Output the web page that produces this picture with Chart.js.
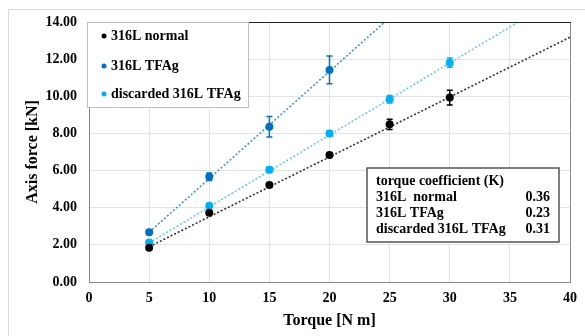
<!DOCTYPE html>
<html>
<head>
<meta charset="utf-8">
<script src="https://cdn.jsdelivr.net/npm/chart.js@4.4.1/dist/chart.umd.min.js"></script>
<style>
	body { margin: 0; background: #fff; }
	#divGrafico { width: 585px; height: 336px; }
</style>
</head>
<body>
<div id="divGrafico"><canvas id="grafico" width="585" height="336"></canvas></div>
<script>
// torque [N m]
var torqueNormal = [5, 10, 15, 20, 25, 30];
var torqueTFAg = [5, 10, 15, 20];
var torqueDisc = [5, 10, 15, 20, 25, 30];

// axis force [kN]
var forcaNormal = [1.84, 3.73, 5.22, 6.84, 8.49, 9.93];
var forcaTFAg = [2.68, 5.67, 8.36, 11.42];
var forcaDisc = [2.13, 4.1, 6.04, 8.0, 9.84, 11.81];

// desvio (+/-)
var erroNormal = [0.07, 0.1, 0.1, 0.1, 0.28, 0.4];
var erroTFAg = [0.12, 0.2, 0.55, 0.75];
var erroDisc = [0.07, 0.1, 0.15, 0.15, 0.2, 0.25];

// linhas de tendencia (pontos inicial e final)
var tendNormal = [[5, 1.9], [40, 13.18]];
var tendTFAg = [[5, 2.68], [24.6, 14]];
var tendDisc = [[5, 2.1], [35.7, 14]];

var nomes = ["316L normal", "316L TFAg", "discarded 316L TFAg"];
var cores = ["#000000", "#0070C0", "#00B0F0"];

// tabela do coeficiente
var tabelaTitulo = "torque coefficient (K)";
var tabelaNomes = ["316L  normal", "316L TFAg", "discarded 316L TFAg"];
var tabelaK = ["0.36", "0.23", "0.31"];

var fonte = "'Liberation Serif', 'Times New Roman', serif";

function pontos(xs, ys) {
	var p = [];
	for (var i = 0; i < xs.length; i++) {
		p.push({x: xs[i], y: ys[i]});
	}
	return p;
}

var erros = [erroNormal, erroTFAg, erroDisc];

var pluginExtra = {
	id: 'extra',
	beforeDraw: function(chart) {
		var ctx = chart.ctx;
		ctx.save();
		ctx.strokeStyle = "#d9d9d9";
		ctx.lineWidth = 1;
		ctx.strokeRect(8.5, 9.5, 700, 400);
		ctx.restore();
	},
	beforeDatasetsDraw: function(chart) {
		var ctx = chart.ctx;
		var sx = chart.scales.x, sy = chart.scales.y;
		ctx.save();
		for (var d = 0; d < 3; d++) {
			var ds = chart.data.datasets[d];
			ctx.strokeStyle = cores[d];
			ctx.lineWidth = 1.5;
			for (var i = 0; i < ds.data.length; i++) {
				var px = sx.getPixelForValue(ds.data[i].x);
				var t = sy.getPixelForValue(ds.data[i].y + erros[d][i]);
				var b = sy.getPixelForValue(ds.data[i].y - erros[d][i]);
				ctx.beginPath();
				ctx.moveTo(px, t); ctx.lineTo(px, b);
				ctx.moveTo(px - 3, t); ctx.lineTo(px + 3, t);
				ctx.moveTo(px - 3, b); ctx.lineTo(px + 3, b);
				ctx.stroke();
			}
		}
		ctx.restore();
	},
	afterDraw: function(chart) {
		var ctx = chart.ctx;
		var a = chart.chartArea;
		ctx.save();
		// moldura
		ctx.lineWidth = 1;
		ctx.strokeStyle = "#888";
		ctx.beginPath();
		ctx.moveTo(Math.round(a.right) + 0.5, a.top);
		ctx.lineTo(Math.round(a.right) + 0.5, a.bottom);
		ctx.stroke();
		ctx.strokeStyle = "#222";
		ctx.beginPath();
		ctx.moveTo(a.left, Math.round(a.top) + 0.5);
		ctx.lineTo(a.right + 1, Math.round(a.top) + 0.5);
		ctx.stroke();

		// legenda
		ctx.fillStyle = "#fff";
		ctx.fillRect(88, 23, 160, 84);
		ctx.strokeStyle = "#bfbfbf";
		ctx.strokeRect(87.5, 22.5, 161, 85);
		ctx.font = "bold 14px " + fonte;
		ctx.textBaseline = "middle";
		var ly = [36, 66, 94];
		for (var i = 0; i < 3; i++) {
			ctx.fillStyle = cores[i];
			ctx.beginPath();
			ctx.arc(104, ly[i], 2.5, 0, Math.PI * 2);
			ctx.fill();
			ctx.fillStyle = "#000";
			ctx.fillText(nomes[i], 111, ly[i]);
		}

		// tabela
		ctx.fillStyle = "#fff";
		ctx.fillRect(367, 168, 192, 74);
		ctx.strokeStyle = "#555";
		ctx.lineWidth = 1.5;
		ctx.strokeRect(367, 168, 192, 74);
		ctx.fillStyle = "#000";
		ctx.font = "bold 14px " + fonte;
		ctx.fillText(tabelaTitulo, 376, 181);
		var ty = [197, 213, 229];
		for (var j = 0; j < 3; j++) {
			ctx.textAlign = "left";
			ctx.fillText(tabelaNomes[j], 376, ty[j]);
			ctx.textAlign = "right";
			ctx.fillText(tabelaK[j], 550, ty[j]);
		}
		ctx.restore();
	}
};

var datasets = [];
var xs = [torqueNormal, torqueTFAg, torqueDisc];
var ys = [forcaNormal, forcaTFAg, forcaDisc];
for (var k = 0; k < 3; k++) {
	datasets.push({
		label: nomes[k],
		data: pontos(xs[k], ys[k]),
		backgroundColor: cores[k],
		borderColor: cores[k],
		pointRadius: 4,
		pointBorderWidth: 0,
		showLine: false
	});
}
var tends = [tendNormal, tendTFAg, tendDisc];
var coresTend = ["#333333", "#3f93d8", "#6fc3ef"];
for (var m = 0; m < 3; m++) {
	datasets.push({
		label: "tend" + m,
		data: [{x: tends[m][0][0], y: tends[m][0][1]}, {x: tends[m][1][0], y: tends[m][1][1]}],
		borderColor: coresTend[m],
		borderWidth: 1.6,
		borderDash: [2, 2],
		pointRadius: 0,
		showLine: true,
		fill: false
	});
}

var grafico = new Chart(document.getElementById("grafico"), {
	type: 'scatter',
	data: {datasets: datasets},
	plugins: [pluginExtra],
	options: {
		responsive: false,
		animation: false,
		layout: {padding: {top: 22, right: 14, left: 0, bottom: 0}},
		plugins: {legend: {display: false}, tooltip: {enabled: false}},
		scales: {
			x: {
				type: 'linear',
				min: 0, max: 40,
				afterFit: function(s) { s.height = 54; },
				ticks: {stepSize: 5, padding: 8, color: "#000", font: {family: fonte, size: 14, weight: 'bold'}},
				grid: {color: "#e3e3e3", drawTicks: false},
				border: {color: "#888", width: 1},
				title: {display: true, text: "Torque [N m]", color: "#000", padding: {bottom: 6, top: 0}, font: {family: fonte, size: 16, weight: 'bold'}}
			},
			y: {
				min: 0, max: 14,
				afterFit: function(s) { s.width = 89; },
				ticks: {stepSize: 2, padding: 12, color: "#000", callback: function(v) { return v.toFixed(2); }, font: {family: fonte, size: 14, weight: 'bold'}},
				grid: {color: "#e3e3e3", drawTicks: false},
				border: {color: "#888", width: 1},
				title: {display: true, text: "Axis force [kN]", color: "#000", padding: {top: 23, bottom: 0}, font: {family: fonte, size: 16, weight: 'bold'}}
			}
		}
	}
});
</script>
</body>
</html>
